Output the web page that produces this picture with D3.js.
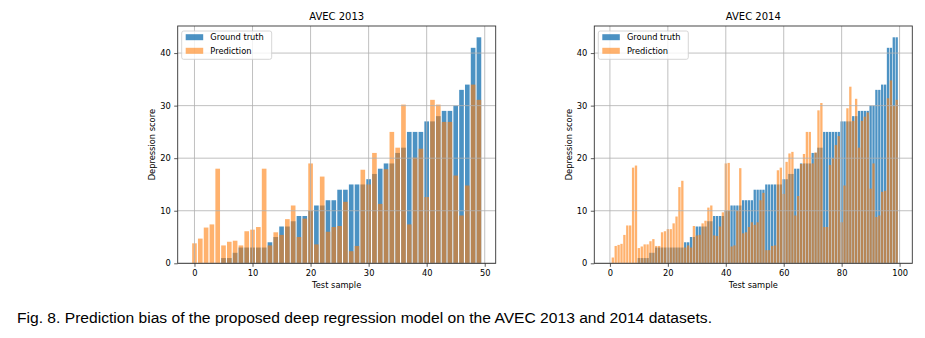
<!DOCTYPE html>
<html>
<head>
<meta charset="utf-8">
<script src="https://cdn.jsdelivr.net/npm/d3@7"></script>
<style>
  body { margin: 0; background: #fff; }
  svg text { font-family: 'DejaVu Sans', sans-serif; fill: #000; }
</style>
</head>
<body>
<svg id="chart" width="925" height="338"></svg>
<script>

var truth2013 = [0, 0, 0, 0, 0, 1, 1, 2, 3, 3,
    3, 3, 3, 4, 5, 7, 7, 8, 9, 9,
    10, 11, 11, 12, 12, 14, 14, 15, 15, 15,
    16, 17, 18, 19, 19, 21, 22, 25, 25, 25,
    27, 27, 28, 29, 29, 30, 33, 34, 41, 43];

var pred2013 = [3.8, 4.7, 6.8, 7.4, 18, 3.4, 4.1, 4.3, 3.4, 6.1,
    6.4, 6.9, 18, 3.4, 5.9, 5.4, 8.4, 11, 5, 8.5,
    19, 3.6, 16.5, 6, 6.9, 7.1, 11.7, 2.3, 3.3, 17.8,
    15, 21, 11.3, 17.9, 25, 22, 30.2, 7.4, 20.1, 21.8,
    12.6, 31.1, 30.2, 26.9, 26.9, 16.7, 9.1, 14.8, 34, 31.1];

var truth2014 = [0, 0, 0, 0, 0, 0, 0, 0, 0, 0,
    1, 1, 1, 1, 2, 2, 3, 3, 3, 3,
    3, 3, 3, 3, 3, 3, 4, 4, 5, 5,
    7, 7, 7, 7, 8, 8, 9, 9, 9, 9,
    10, 10, 11, 11, 11, 11, 12, 12, 12, 12,
    14, 14, 14, 14, 15, 15, 15, 15, 15, 15,
    16, 16, 17, 17, 18, 18, 19, 19, 19, 19,
    21, 21, 22, 22, 25, 25, 25, 25, 25, 25,
    27, 27, 27, 27, 28, 28, 29, 29, 29, 29,
    30, 30, 33, 33, 34, 34, 41, 41, 43, 43];

var pred2014 = [0, 1.1, 3.3, 3.5, 3.7, 5.4, 7.2, 7.2, 18.2, 18.6,
    2.9, 3.2, 3.6, 3.6, 4.2, 4.6, 3.3, 3.3, 5.9, 6.1,
    6.5, 6.5, 7.6, 8.9, 14.5, 15.7, 3.0, 3.4, 3.0, 7.1,
    5.3, 5.4, 7.6, 8.1, 10.6, 11.0, 5.3, 5.2, 7.0, 9.7,
    19.0, 19.1, 3.2, 3.4, 10.0, 18.1, 5.7, 5.9, 6.9, 7.8,
    7.3, 7.8, 12.0, 13.4, 2.5, 2.5, 3.3, 3.4, 17.7, 18.2,
    13.2, 19.3, 20.9, 21.2, 9.1, 12.8, 18.9, 20.8, 25.0, 25.0,
    19.0, 21.1, 29.1, 30.5, 6.9, 6.9, 18.7, 20.0, 22.5, 24.2,
    7.8, 14.8, 29.5, 33.6, 27.1, 31.3, 22.0, 27.1, 27.9, 28.7,
    14.2, 19.0, 8.8, 9.1, 13.6, 13.8, 31.4, 34.8, 29.9, 31.1];

var xTicks2013 = [0, 10, 20, 30, 40, 50];
var xTicks2014 = [0, 20, 40, 60, 80, 100];
var yTicks = [0, 10, 20, 30, 40];
var seriesNames = ['Ground truth', 'Prediction'];
var panelTitles = ['AVEC 2013', 'AVEC 2014'];
var xLabel = 'Test sample';
var yLabel = 'Depression score';
var caption = 'Fig. 8. Prediction bias of the proposed deep regression model on the AVEC 2013 and 2014 datasets.';

var blue = '#1f77b4',
    orange = '#ff7f0e',
    plotTop = 26,
    plotBottom = 263.3,
    panelWidth = 318,
    fontSize = 8.3;

var svg = d3.select('#chart');

function drawPanel(left, title, truth, pred, xTicks) {
    var n = truth.length;
    // matplotlib style 5% margin around the bars
    var lo = -0.4, hi = n - 1 + 0.4, pad = (hi - lo) * 0.05;
    var x = d3.scaleLinear().domain([lo - pad, hi + pad]).range([left, left + panelWidth]);
    var y = d3.scaleLinear().domain([0, d3.max(truth.concat(pred)) * 1.05]).range([plotBottom, plotTop]);
    var barWidth = x(0.8) - x(0);
    var g = svg.append('g');

    [[truth, blue, 0.8], [pred, orange, 0.6]].forEach(function(s) {
        g.append('g').selectAll('rect').data(s[0]).enter()
            .append('rect')
                .attr('x', function(d, i) { return x(i - 0.4); })
                .attr('width', barWidth)
                .attr('y', function(d) { return y(d); })
                .attr('height', function(d) { return y(0) - y(d); })
                .attr('fill', s[1])
                .attr('fill-opacity', s[2]);
    });

    // grid is drawn over the bars, like the original
    var grid = g.append('g').attr('stroke', '#b0b0b0').attr('stroke-width', 0.8);
    grid.selectAll('line.v').data(xTicks).enter().append('line')
        .attr('class', 'v')
        .attr('x1', function(d) { return x(d); })
        .attr('x2', function(d) { return x(d); })
        .attr('y1', plotTop)
        .attr('y2', plotBottom);
    grid.selectAll('line.h').data(yTicks).enter().append('line')
        .attr('class', 'h')
        .attr('x1', left)
        .attr('x2', left + panelWidth)
        .attr('y1', function(d) { return y(d); })
        .attr('y2', function(d) { return y(d); });

    g.append('rect')
        .attr('x', left)
        .attr('y', plotTop)
        .attr('width', panelWidth)
        .attr('height', plotBottom - plotTop)
        .attr('fill', 'none')
        .attr('stroke', '#333')
        .attr('stroke-width', 0.9);

    var xAxis = g.append('g')
        .attr('transform', 'translate(0,' + plotBottom + ')')
        .call(d3.axisBottom(x).tickValues(xTicks).tickSize(3.5).tickPadding(3.5).tickSizeOuter(0));
    var yAxis = g.append('g')
        .attr('transform', 'translate(' + left + ',0)')
        .call(d3.axisLeft(y).tickValues(yTicks).tickSize(3.5).tickPadding(3.5).tickSizeOuter(0));
    [xAxis, yAxis].forEach(function(a) {
        a.select('.domain').remove();
        a.selectAll('.tick line').attr('stroke', '#333').attr('stroke-width', 0.8);
        a.selectAll('.tick text').attr('font-size', fontSize).attr('font-family', 'DejaVu Sans').attr('fill', '#000');
    });

    var cx = left + panelWidth / 2;
    g.append('text')
        .attr('x', cx).attr('y', 20)
        .attr('text-anchor', 'middle')
        .attr('font-size', 10)
        .text(title);
    g.append('text')
        .attr('x', cx).attr('y', 288.3)
        .attr('text-anchor', 'middle')
        .attr('font-size', fontSize)
        .text(xLabel);
    g.append('text')
        .attr('transform', 'translate(' + (left - 22.7) + ',' + ((plotTop + plotBottom) / 2) + ') rotate(-90)')
        .attr('text-anchor', 'middle')
        .attr('font-size', fontSize)
        .text(yLabel);

    // legend
    var legend = g.append('g').attr('transform', 'translate(' + (left + 4) + ',31)');
    legend.append('rect')
        .attr('width', 90).attr('height', 28.3)
        .attr('rx', 2)
        .attr('fill', '#fff').attr('fill-opacity', 0.8)
        .attr('stroke', '#cccccc').attr('stroke-width', 0.8);
    var items = legend.selectAll('g.item').data(seriesNames).enter()
        .append('g')
            .attr('class', 'item')
            .attr('transform', function(d, i) { return 'translate(0,' + (i * 13.6) + ')'; });
    items.append('rect')
        .attr('x', 4).attr('y', 3.2)
        .attr('width', 17.5).attr('height', 6)
        .attr('fill', function(d, i) { return i === 0 ? blue : orange; })
        .attr('fill-opacity', function(d, i) { return i === 0 ? 0.8 : 0.6; });
    items.append('text')
        .attr('x', 28.6).attr('y', 9.4)
        .attr('font-size', fontSize)
        .text(function(d) { return d; });
}

drawPanel(177.7, panelTitles[0], truth2013, pred2013, xTicks2013);
drawPanel(594.3, panelTitles[1], truth2014, pred2014, xTicks2014);

svg.append('text')
    .attr('x', 17).attr('y', 323)
    .attr('font-size', 15.5)
    .attr('textLength', 695)
    .attr('lengthAdjust', 'spacingAndGlyphs')
    .style('font-family', "'Liberation Sans Narrow', 'Liberation Sans', Arial, sans-serif")
    .attr('fill', '#111')
    .text(caption);
</script>
</body>
</html>
